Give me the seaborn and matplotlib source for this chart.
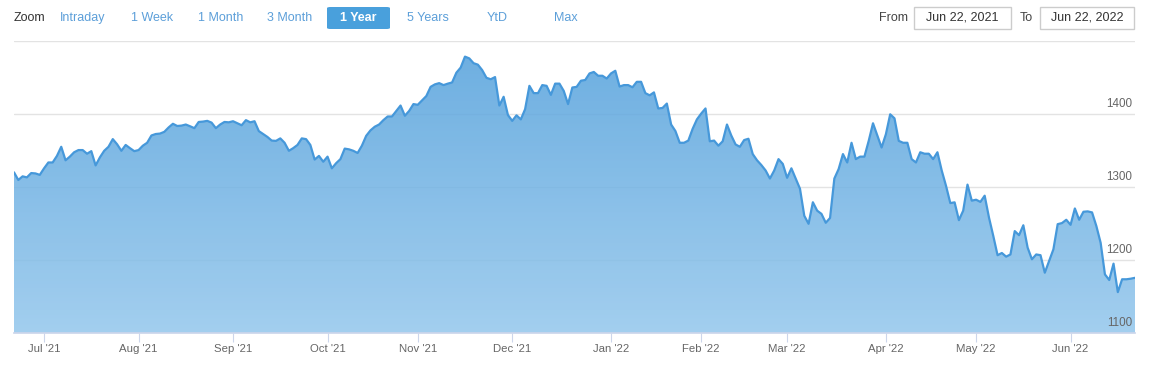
import numpy as np
import pandas as pd
import matplotlib
matplotlib.use("Agg")
import matplotlib.pyplot as plt
import seaborn as sns
from matplotlib.colors import LinearSegmentedColormap
from matplotlib.patches import Polygon, FancyBboxPatch, Rectangle

# ---------------- data ----------------
start_date = "2021-06-22"
values = [
    1320.5, 1310, 1315, 1313.6, 1319.5, 1319, 1317, 1326, 1334, 1334, 1343, 1355.5, 1337, 1342,
    1348, 1351, 1351, 1346, 1349.5, 1330, 1341, 1350, 1355.5, 1366, 1359, 1350, 1358, 1353.6,
    1349.5, 1351, 1357, 1361, 1371, 1373, 1373.6, 1376, 1382, 1387, 1384, 1384.5, 1386, 1383.6,
    1381, 1389.5,
    1390, 1391, 1388.6, 1381, 1386, 1389.5, 1389, 1390.5, 1387.7, 1385, 1392, 1389, 1390.5, 1377,
    1373, 1369, 1364, 1363.6, 1367, 1361, 1350, 1353.6, 1358, 1367, 1366, 1358, 1338, 1343,
    1335, 1342, 1326, 1333, 1338.6, 1353, 1352, 1350, 1347, 1357, 1370.5, 1378, 1383, 1386,
    1392, 1397, 1397, 1404.6, 1412, 1398, 1404.6, 1414, 1413, 1419, 1425, 1437.6, 1441, 1442.7,
    1440, 1442, 1443.6, 1457, 1464, 1479, 1476.6, 1470, 1468, 1460.6, 1450, 1448, 1451, 1412,
    1424, 1399, 1391, 1398.6, 1393, 1407, 1439, 1429, 1429, 1440, 1439, 1426.6, 1442, 1442,
    1432, 1414,
    1436.7, 1437.6, 1446, 1447, 1456, 1458, 1452.8, 1452.8, 1449, 1456, 1459.6, 1438, 1440, 1440,
    1437, 1444.5, 1444.5, 1429, 1426, 1430, 1408, 1408.7, 1414.7, 1386, 1377, 1361, 1361, 1364,
    1380, 1393, 1401, 1408, 1363, 1364, 1357, 1363, 1386, 1371, 1358.7, 1355.5, 1364.7, 1366.5,
    1345.5, 1337, 1330.5, 1323, 1312, 1323, 1338.6, 1332, 1313, 1326, 1312, 1298, 1261, 1250,
    1279.5, 1268, 1263.6, 1251.4, 1258, 1312, 1325, 1345.5, 1334, 1361, 1338.6, 1342, 1342,
    1363.6, 1387.7, 1371, 1354.5, 1372.7, 1400, 1394.5, 1363.6, 1361, 1361, 1338.6, 1334, 1348,
    1346, 1346, 1338.6, 1348,
    1323, 1302, 1278.4, 1279.4, 1255, 1268, 1303.7, 1281.7, 1283, 1280, 1288.5, 1258.7, 1233.5,
    1207, 1210, 1205, 1208, 1240, 1234.4, 1248, 1217.4, 1201.4, 1208, 1207, 1183, 1199, 1215,
    1249.5, 1251, 1255.5, 1248.6, 1271, 1255.5, 1266.5, 1267, 1265.6, 1247, 1224, 1180.7, 1173,
    1195.4, 1156.4, 1174, 1174, 1174.8, 1176,
]
y_ticks = [1100, 1200, 1300, 1400]
y_grid = [1100, 1200, 1300, 1400, 1500]
zoom_buttons = ["Intraday", "1 Week", "1 Month", "3 Month", "1 Year", "5 Years", "YtD", "Max"]
from_label = "Jun 22, 2021"
to_label = "Jun 22, 2022"

dates = pd.bdate_range(start_date, periods=len(values))
df = pd.DataFrame({"idx": np.arange(len(values)), "date": dates, "value": values})

# month ticks (first trading day of each month)
month_first = df.groupby(df["date"].dt.to_period("M"))["idx"].min()
month_first = month_first[month_first > 0]
tick_pos = month_first.values
tick_lab = [pd.Period(p).strftime("%b '%y") for p in month_first.index]

# ---------------- figure ----------------
sns.set_theme(style="white")
plt.rcParams["font.family"] = ["Liberation Sans", "DejaVu Sans"]

W, H = 1151, 366
fig = plt.figure(figsize=(W / 100, H / 100), dpi=100)
top_px, bot_px, left_px, right_px = 41.3, 333.3, 14, 1135
ax = fig.add_axes([left_px / W, (H - bot_px) / H, (right_px - left_px) / W, (bot_px - top_px) / H])
n = len(values)
ax.set_xlim(0, n - 1)
ax.set_ylim(1100, 1500)

for yv in y_grid:
    ax.axhline(yv, color="#e3e3e3", lw=1, zorder=0)

# gradient area
verts = np.vstack([[0, 1100], np.column_stack([df["idx"], df["value"]]), [n - 1, 1100]])
clip = Polygon(verts, closed=True, facecolor="none", edgecolor="none", transform=ax.transData)
ax.add_patch(clip)
cmap = LinearSegmentedColormap.from_list("g", ["#92c6ec", "#54a1dc"])
grad = np.linspace(0, 1, 256).reshape(-1, 1)
im = ax.imshow(grad, extent=[0, n - 1, 1100, max(values)], origin="lower", aspect="auto",
               cmap=cmap, alpha=0.85, zorder=1, interpolation="bilinear")
im.set_clip_path(clip)

sns.lineplot(data=df, x="idx", y="value", ax=ax, color="#4698da", lw=1.6, zorder=3)

ax.set_xlabel("")
ax.set_ylabel("")
ax.set_xticks(tick_pos)
ax.set_xticklabels(tick_lab)
ax.set_yticks([])
ax.tick_params(axis="x", length=6.5, width=0.8, color="#ccd6eb", labelcolor="#666666",
               labelsize=8.2, pad=1.5, bottom=True)
for s in ["top", "left", "right"]:
    ax.spines[s].set_visible(False)
ax.spines["bottom"].set_color("#ccd6eb")
ax.spines["bottom"].set_zorder(4)

for yv in y_ticks:
    ax.annotate(str(yv), xy=(1, yv), xycoords=("axes fraction", "data"), xytext=(-2, 3),
                textcoords="offset points", ha="right", va="bottom", fontsize=8.4,
                color="#666666", zorder=5, annotation_clip=False)

# ---------------- toolbar ----------------
def fx(x):
    return x / W

def fy(y):
    return 1 - y / H

fig.text(fx(14), fy(18), "Zoom", fontsize=9, color="#333333", ha="left", va="center")
btn_centers = [83, 152, 221, 290, 358, 428, 497, 566]
for lab, cx in zip(zoom_buttons, btn_centers):
    if lab == "1 Year":
        fig.patches.append(FancyBboxPatch((fx(327), fy(29)), fx(390) - fx(327), fy(7) - fy(29),
                                          boxstyle="round,pad=0,rounding_size=0.003",
                                          transform=fig.transFigure, facecolor="#49a0dc",
                                          edgecolor="none"))
        fig.text(fx(cx), fy(18), lab, fontsize=9, color="white", fontweight="bold",
                 ha="center", va="center")
    else:
        fig.text(fx(cx), fy(18), lab, fontsize=9, color="#5c9fd9", ha="center", va="center")

fig.text(fx(893), fy(18), "From", fontsize=9, color="#444444", ha="center", va="center")
fig.text(fx(1026), fy(18), "To", fontsize=9, color="#444444", ha="center", va="center")
for (x0, x1, lab) in [(914, 1011, from_label), (1040, 1134, to_label)]:
    fig.patches.append(Rectangle((fx(x0), fy(29)), fx(x1) - fx(x0), fy(7) - fy(29),
                                 transform=fig.transFigure, facecolor="white",
                                 edgecolor="#cccccc", lw=1))
    fig.text(fx((x0 + x1) / 2), fy(18), lab, fontsize=9, color="#333333",
             ha="center", va="center")

fig.savefig("out.png", dpi=100)
